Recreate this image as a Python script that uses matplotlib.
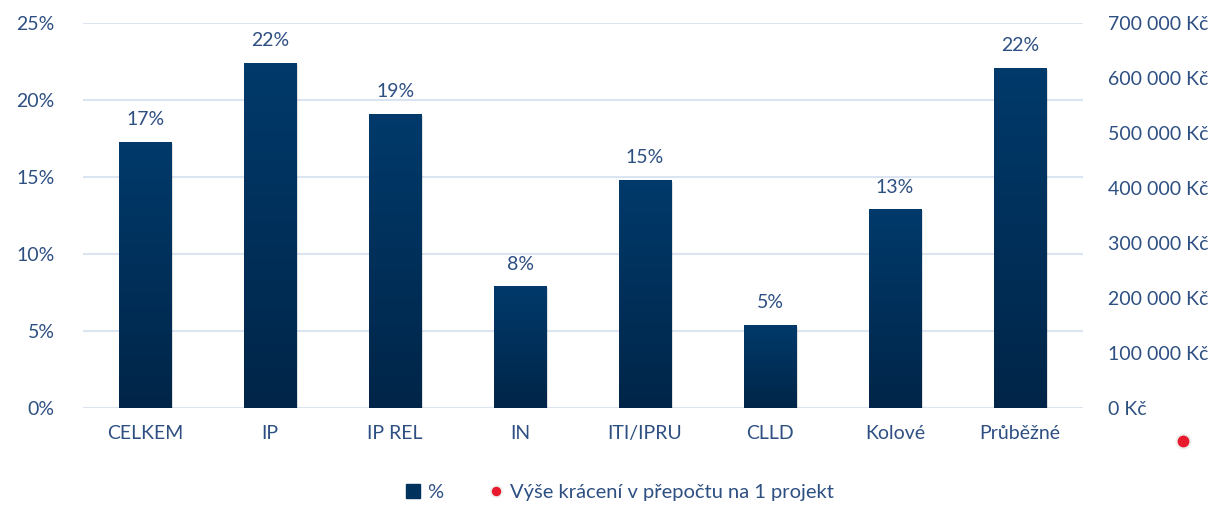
import numpy as np
import matplotlib
matplotlib.use('Agg')
import matplotlib.pyplot as plt
from matplotlib.lines import Line2D
from matplotlib.ticker import FuncFormatter

plt.rcParams['font.family'] = ['Lato', 'DejaVu Sans']

# data
categories = ['CELKEM', 'IP', 'IP REL', 'IN', 'ITI/IPRU', 'CLLD', 'Kolové', 'Průběžné']
percent = [17.3, 22.4, 19.1, 7.9, 14.8, 5.4, 12.9, 22.1]
percent_labels = ['17%', '22%', '19%', '8%', '15%', '5%', '13%', '22%']
# stray point of the second series (drawn outside the plot area in the original)
kc_x = [8.3]
kc_value = [-60000]

text_col = '#2d4f82'
grid_col = '#dbe5f1'

fig = plt.figure(figsize=(12.15, 5.05), dpi=100)
ax = fig.add_axes([0.068, 0.192, 0.823, 0.762])
ax2 = ax.twinx()

x = np.arange(len(categories))
bars = ax.bar(x, percent, width=0.42, color='#00325e', zorder=3)

# vertical gradient inside each bar
grad = np.linspace(0, 1, 256).reshape(-1, 1)
cmap = matplotlib.colors.LinearSegmentedColormap.from_list('g', ['#002548', '#003a6b'])
for b in bars:
    x0, w, h = b.get_x(), b.get_width(), b.get_height()
    # soft shadow
    ax.bar(x0 + w / 2 + 0.015, h, width=w, bottom=-0.12, color='#000000', alpha=0.12, zorder=2)
    im = ax.imshow(grad, cmap=cmap, aspect='auto', extent=[x0, x0 + w, 0, h],
                   origin='lower', zorder=4)
    im.set_clip_path(b)

for xi, v, lab in zip(x, percent, percent_labels):
    ax.text(xi, v + 0.9, lab, ha='center', va='bottom', color=text_col, fontsize=14)

ax.set_xlim(-0.5, len(categories) - 0.5)
ax.set_ylim(0, 25)
ax.set_yticks(range(0, 26, 5))
ax.yaxis.set_major_formatter(FuncFormatter(lambda v, p: f'{int(v)}%'))
ax.set_xticks(x)
ax.set_xticklabels(categories)
ax.grid(axis='y', color=grid_col, linewidth=1.5, zorder=0)
ax.set_axisbelow(True)

ax2.set_ylim(0, 700000)
ax2.set_yticks(range(0, 700001, 100000))
ax2.yaxis.set_major_formatter(
    FuncFormatter(lambda v, p: f'{int(v):,} Kč'.replace(',', ' ')))
ax2.plot(kc_x, kc_value, 'o', color='#e8192c', markersize=10,
         markeredgecolor='#eeeeea', markeredgewidth=1.5, clip_on=False, zorder=5)

for a in (ax, ax2):
    for s in a.spines.values():
        s.set_visible(False)
    a.tick_params(length=0, labelsize=14, colors=text_col)
ax.tick_params(axis='y', pad=20)
ax.tick_params(axis='x', pad=12)
ax2.tick_params(axis='y', pad=18)

handles = [
    Line2D([], [], marker='s', linestyle='none', color='#00325e', markersize=10),
    Line2D([], [], marker='o', linestyle='none', color='#e8192c', markersize=8,
           markeredgecolor='#eeeeea', markeredgewidth=1.2),
]
fig.legend(handles, ['%', 'Výše krácení v přepočtu na 1 projekt'], loc='center',
           bbox_to_anchor=(0.51, 0.025), ncol=2, frameon=False, fontsize=14.5,
           labelcolor=text_col, handlelength=0.8, handletextpad=0.3, columnspacing=2.2)

fig.savefig('out.png', dpi=100)
